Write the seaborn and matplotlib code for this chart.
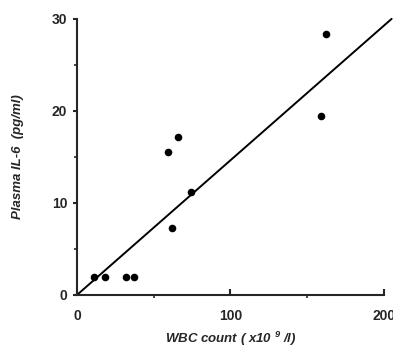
import matplotlib
matplotlib.use("Agg")
import matplotlib.pyplot as plt
import seaborn as sns
import numpy as np
from matplotlib.ticker import MultipleLocator

# data
wbc = [11, 18, 32, 37, 62, 74, 59, 66, 159, 162]
il6 = [2.0, 2.0, 2.0, 2.0, 7.3, 11.2, 15.5, 17.2, 19.4, 28.3]

# fitted line end points
fit_x = [0, 205]
fit_y = [0, 30]

sns.set_style("ticks")
plt.rcParams['font.family'] = ['Liberation Sans', 'DejaVu Sans']
plt.rcParams['mathtext.fontset'] = 'custom'
plt.rcParams['mathtext.rm'] = 'Liberation Sans:italic:bold'
plt.rcParams['mathtext.it'] = 'Liberation Sans:italic:bold'

fig = plt.figure(figsize=(3.93, 3.49), dpi=100)
ax = fig.add_axes([0.196, 0.155, 0.781, 0.791])

sns.scatterplot(x=wbc, y=il6, ax=ax, color='black', s=30, edgecolor='black', linewidth=0, zorder=3)
sns.lineplot(x=fit_x, y=fit_y, ax=ax, color='black', linewidth=1.4, clip_on=False)

ax.set_xlim(0, 200)
ax.set_ylim(0, 30)
ax.set_xticks([0, 100, 200])
ax.set_yticks([0, 10, 20, 30])
ax.xaxis.set_minor_locator(MultipleLocator(50))
ax.yaxis.set_minor_locator(MultipleLocator(5))

for sp in ['top', 'right']:
    ax.spines[sp].set_visible(False)
for sp in ['left', 'bottom']:
    ax.spines[sp].set_linewidth(1.5)

ax.tick_params(axis='x', which='major', direction='in', length=4, width=1.5, pad=10, labelsize=10)
ax.tick_params(axis='x', which='minor', direction='out', length=2, width=1.2)
ax.tick_params(axis='y', which='major', direction='out', length=3, width=1.5, pad=4, labelsize=10)
ax.tick_params(axis='y', which='minor', direction='out', length=2, width=1.2)
for lab in ax.get_xticklabels() + ax.get_yticklabels():
    lab.set_fontweight('bold')

ax.set_xlabel(r"WBC count ( x10 $^{9}$ /l)", fontsize=9.5, fontweight='bold', fontstyle='italic', labelpad=5)
ax.set_ylabel("Plasma IL-6  (pg/ml)", fontsize=9.5, fontweight='bold', fontstyle='italic', labelpad=20)

fig.savefig("out.png", dpi=100)
